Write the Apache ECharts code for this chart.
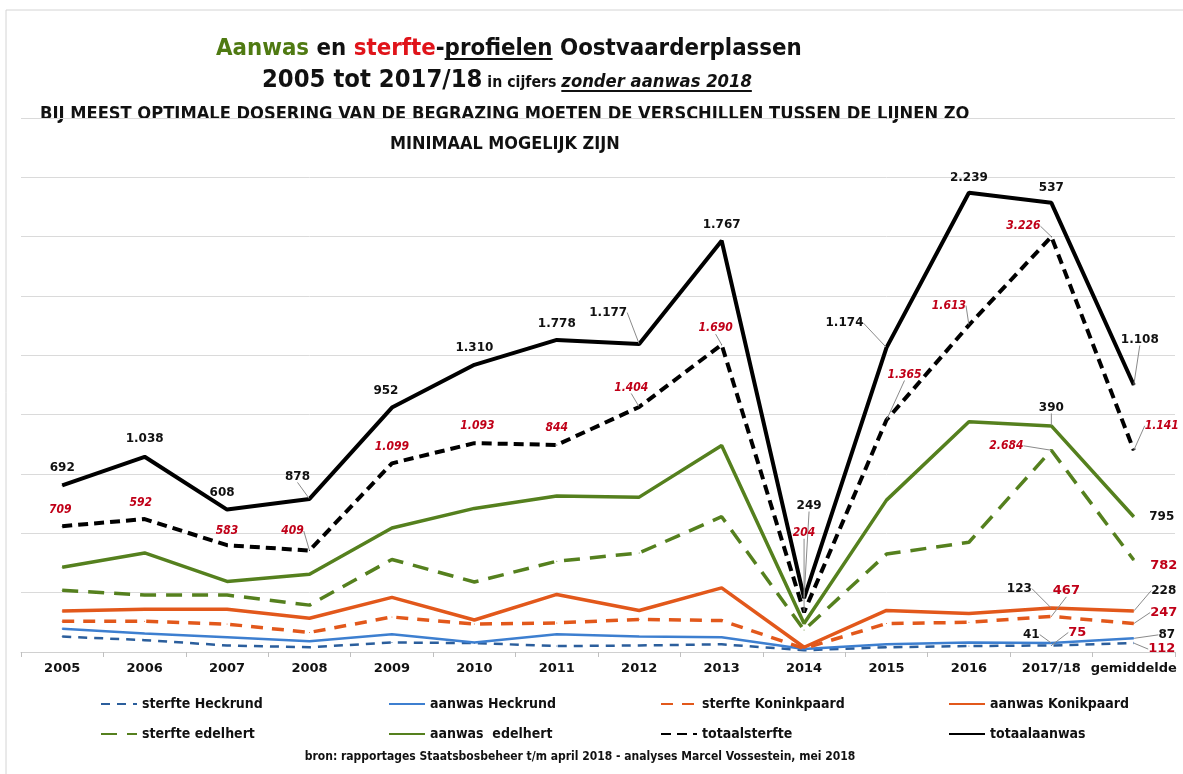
<!DOCTYPE html>
<html>
<head>
<meta charset="utf-8">
<script src="https://cdn.jsdelivr.net/npm/echarts@6/dist/echarts.min.js"></script>
<style>
html, body { margin: 0; padding: 0; background: #fff; }
#chart { width: 1183px; height: 774px; }
</style>
</head>
<body>
<div id="chart"></div>
<script>
var years = ['2005', '2006', '2007', '2008', '2009', '2010', '2011', '2012', '2013', '2014', '2015', '2016', '2017/18', 'gemiddelde'];

// line heights (the y axis has no printed scale)
var sterfteHeckrund    = [26, 20, 11, 8, 16, 15, 10, 11, 13, 3, 8, 10, 11, 15];
var aanwasHeckrund     = [39, 31, 25, 18, 30, 16, 30, 26, 25, 5, 13, 16, 15, 23];
var sterfteKoninkpaard = [52, 52, 47, 33, 59, 47, 49, 55, 53, 6, 48, 50, 60, 48];
var aanwasKonikpaard   = [69, 72, 72, 57, 92, 54, 97, 70, 108, 8, 70, 65, 74, 69];
var sterfteEdelhert    = [104, 96, 96, 79, 156, 118, 153, 167, 228, 37, 165, 185, 340, 155];
var aanwasEdelhert     = [143, 167, 119, 131, 209, 242, 263, 261, 348, 48, 256, 388, 381, 228];
var totaalsterfte      = [212, 224, 180, 171, 318, 352, 349, 413, 518, 67, 391, 551, 700, 340];
var totaalaanwas       = [281, 329, 240, 258, 412, 484, 526, 519, 693, 91, 513, 774, 757, 450];

// the numbers printed next to the lines
var lblSterfteHeckrund    = [null, null, null, null, null, null, null, null, null, null, null, null, '75', '112'];
var lblAanwasHeckrund     = [null, null, null, null, null, null, null, null, null, null, null, null, '41', '87'];
var lblSterfteKoninkpaard = [null, null, null, null, null, null, null, null, null, null, null, null, '467', '247'];
var lblAanwasKonikpaard   = [null, null, null, null, null, null, null, null, null, null, null, null, '123', '228'];
var lblSterfteEdelhert    = [null, null, null, null, null, null, null, null, null, null, null, null, '2.684', '782'];
var lblAanwasEdelhert     = [null, null, null, null, null, null, null, null, null, null, null, null, '390', '795'];
var lblTotaalsterfte      = ['709', '592', '583', '409', '1.099', '1.093', '844', '1.404', '1.690', '204', '1.365', '1.613', '3.226', '1.141'];
var lblTotaalaanwas       = ['692', '1.038', '608', '878', '952', '1.310', '1.778', '1.177', '1.767', '249', '1.174', '2.239', '537', '1.108'];

var NARROW = '"Liberation Sans Narrow", "DejaVu Sans Condensed", "Roboto", sans-serif';
var WIDE = '"DejaVu Sans", Verdana, sans-serif';

var lblStyle = {
    black: { color: '#111', fontFamily: WIDE, fontWeight: 'bold', fontSize: 12 },
    redItalic: { color: '#c00018', fontFamily: NARROW, fontWeight: 'bold', fontStyle: 'italic', fontSize: 12 },
    redBold: { color: '#c00018', fontFamily: WIDE, fontWeight: 'bold', fontSize: 13 }
};

// label shifts [dx, dy, leader line]
var shifts = {
    'totaalaanwas': {0: [0, -6], 1: [0, -6], 2: [-5, -5], 3: [-12, -11, 1], 4: [-6, -5], 5: [0, -5], 6: [0, -5],
        7: [-31, -20, 1], 8: [0, -4], 9: [5, -81, 1], 10: [-42, -13, 1], 11: [0, -3], 12: [0, -3], 13: [6, -34, 1]},
    'totaalsterfte': {0: [-2, -5], 1: [-4, -5], 2: [0, -3], 3: [-17, -8, 1], 4: [0, -5], 5: [3, -6], 6: [0, -6],
        7: [-8, -8, 1], 8: [-6, -5, 1], 9: [0, -68, 1], 10: [18, -34, 1], 11: [-20, -8, 1], 12: [-28, 1, 1], 13: [28, -13, 1]},
    'aanwas  edelhert': {12: [0, -7, 1], 13: [28, 12]},
    'sterfte edelhert': {12: [-45, 7, 1], 13: [30, 18]},
    'aanwas Konikpaard': {12: [-32, -8, 1], 13: [30, -9, 1]},
    'sterfte Koninkpaard': {12: [15, -14, 1], 13: [30, 1, 1]},
    'aanwas Heckrund': {12: [-20, 3, 1], 13: [33, 8, 1]},
    'sterfte Heckrund': {12: [26, -1, 1], 13: [28, 18, 1]}
};

var defs = [
    { name: 'sterfte Heckrund', data: sterfteHeckrund, labels: lblSterfteHeckrund, color: '#2b5e9c', width: 2.5, dash: [9, 7], lbl: 'redBold' },
    { name: 'aanwas Heckrund', data: aanwasHeckrund, labels: lblAanwasHeckrund, color: '#3d7fd0', width: 2.5, dash: null, lbl: 'black' },
    { name: 'sterfte Koninkpaard', data: sterfteKoninkpaard, labels: lblSterfteKoninkpaard, color: '#e2581b', width: 3.5, dash: [12, 9], lbl: 'redBold' },
    { name: 'aanwas Konikpaard', data: aanwasKonikpaard, labels: lblAanwasKonikpaard, color: '#e2581b', width: 3.5, dash: null, lbl: 'black' },
    { name: 'sterfte edelhert', data: sterfteEdelhert, labels: lblSterfteEdelhert, color: '#55801e', width: 3.5, dash: [16, 10], lbl: 'redItalic', last: 'redBold' },
    { name: 'aanwas  edelhert', data: aanwasEdelhert, labels: lblAanwasEdelhert, color: '#55801e', width: 3.5, dash: null, lbl: 'black' },
    { name: 'totaalsterfte', data: totaalsterfte, labels: lblTotaalsterfte, color: '#000', width: 4, dash: [10, 6], lbl: 'redItalic' },
    { name: 'totaalaanwas', data: totaalaanwas, labels: lblTotaalaanwas, color: '#000', width: 4, dash: null, lbl: 'black' }
];

var series = defs.map(function (d) {
    var sh = shifts[d.name];
    return {
        name: d.name,
        type: 'line',
        symbol: 'circle',
        symbolSize: 1,
        itemStyle: { color: d.color },
        lineStyle: { color: d.color, width: d.width, type: d.dash || 'solid', cap: 'butt' },
        labelLine: { show: false },
        labelLayout: function (p) {
            var s = sh[p.dataIndex];
            return s ? { dx: s[0], dy: s[1], hideOverlap: false } : {};
        },
        data: d.data.map(function (v, i) {
            var t = d.labels[i];
            var st = (i === 13 && d.last) ? d.last : d.lbl;
            var s = sh[i];
            return {
                value: v,
                label: t ? Object.assign({ show: true, position: 'top', distance: 5, formatter: t }, lblStyle[st]) : { show: false },
                labelLine: (s && s[2]) ? { show: true, length2: 0, lineStyle: { color: '#8a8a8a', width: 1 } } : { show: false }
            };
        }),
        animation: false
    };
});

// title texts
var ctx = document.createElement('canvas').getContext('2d');
function textWidth(str, style, size) {
    ctx.font = style + ' bold ' + size + 'px ' + NARROW;
    return ctx.measureText(str).width;
}

var graphics = [
    { type: 'rect', shape: { x: 6, y: 10, width: 1200, height: 800 }, style: { fill: 'none', stroke: '#d4d4d4', lineWidth: 1 }, silent: true }
];

function addLine(pieces, x0, x1, baseline, base) {
    var total = 0;
    pieces.forEach(function (p) { total += textWidth(p.text, p.italic ? 'italic' : 'normal', base * (p.rel || 1)); });
    var scale = (x1 - x0) / total;
    var x = x0;
    pieces.forEach(function (p) {
        var fs = base * (p.rel || 1) * scale;
        var st = p.italic ? 'italic' : 'normal';
        var w = textWidth(p.text, st, fs);
        graphics.push({
            type: 'text', x: x, y: baseline - 0.3 * fs, silent: true,
            style: {
                text: p.text, fill: p.color || '#111', fontFamily: NARROW, fontWeight: 'bold', fontStyle: st, fontSize: fs,
                align: 'left', textAlign: 'left', verticalAlign: 'middle', textVerticalAlign: 'middle'
            }
        });
        if (p.underline) {
            graphics.push({ type: 'line', silent: true, shape: { x1: x, y1: baseline + 3, x2: x + w, y2: baseline + 3 },
                style: { stroke: p.color || '#111', lineWidth: 2 } });
        }
        x += w;
    });
}

addLine([
    { text: 'Aanwas', color: '#4f7a12' },
    { text: ' en ' },
    { text: 'sterfte', color: '#e0141a' },
    { text: '-' },
    { text: 'profielen', underline: true },
    { text: ' Oostvaarderplassen' }
], 216, 802, 56, 26);
addLine([
    { text: '2005 tot 2017/18' },
    { text: ' in cijfers ', rel: 0.62 },
    { text: 'zonder aanwas 2018', rel: 0.72, italic: true, underline: true }
], 262, 752, 88, 26);
addLine([{ text: 'BIJ MEEST OPTIMALE DOSERING VAN DE BEGRAZING MOETEN DE VERSCHILLEN TUSSEN DE LIJNEN ZO' }], 40, 970, 120, 18);
addLine([{ text: 'MINIMAAL MOGELIJK ZIJN' }], 390, 620, 150, 18);

graphics.push({
    type: 'text', x: 580, y: 757, silent: true,
    style: {
        text: 'bron: rapportages Staatsbosbeheer t/m april 2018 - analyses Marcel Vossestein, mei 2018',
        fill: '#111', fontFamily: NARROW, fontWeight: 'bold', fontSize: 12,
        align: 'center', textAlign: 'center', verticalAlign: 'middle', textVerticalAlign: 'middle'
    }
});

// one legend per item so they sit in fixed columns
var legendPos = [[95, 700], [383, 700], [655, 700], [943, 700], [95, 730], [383, 730], [655, 730], [943, 730]];
var legends = defs.map(function (d, i) {
    return {
        data: [d.name],
        left: legendPos[i][0],
        top: legendPos[i][1] - 8,
        itemWidth: 36,
        itemHeight: 14,
        selectedMode: false,
        itemStyle: { color: 'rgba(0,0,0,0)', borderWidth: 0 },
        textStyle: { fontFamily: NARROW, fontSize: 14, fontWeight: 'bold', color: '#111' }
    };
});

var chart = echarts.init(document.getElementById('chart'));
chart.setOption({
    backgroundColor: '#fff',
    animation: false,
    grid: { left: 21, right: 8, top: 118, bottom: 122 },
    legend: legends,
    xAxis: {
        type: 'category',
        data: years,
        boundaryGap: true,
        axisLine: { lineStyle: { color: '#d0d0d0', width: 1 } },
        axisTick: { show: true, length: 5, lineStyle: { color: '#c0c0c0' } },
        axisLabel: { interval: 0, margin: 10, color: '#111', fontFamily: WIDE, fontWeight: 'bold', fontSize: 13 }
    },
    yAxis: {
        type: 'value',
        min: 0,
        max: 900,
        interval: 100,
        axisLabel: { show: false },
        axisLine: { show: false },
        axisTick: { show: false },
        splitLine: { lineStyle: { color: '#dadada', width: 1 } }
    },
    graphic: graphics,
    series: series
});
</script>
</body>
</html>
